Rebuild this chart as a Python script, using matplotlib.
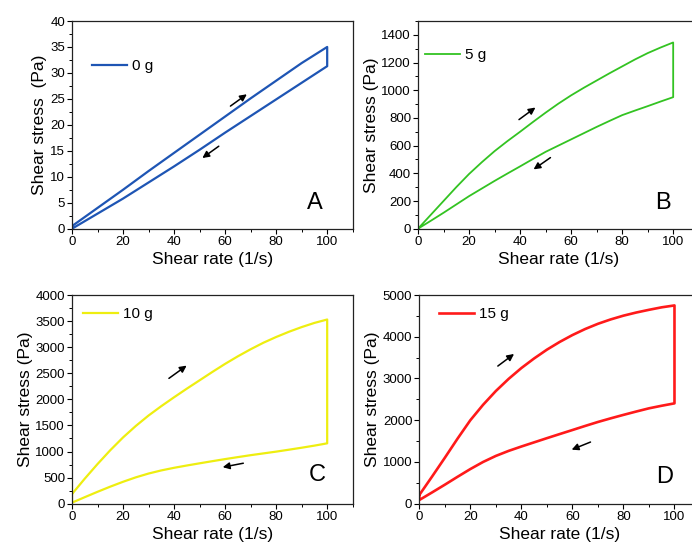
import matplotlib.pyplot as plt
from matplotlib.ticker import MultipleLocator

plt.rcParams['font.family'] = ['Liberation Sans', 'DejaVu Sans']

# --- data (shear rate 1/s, shear stress Pa) ---
rate_a = [0, 10, 20, 30, 40, 50, 60, 70, 80, 90, 100]
rate = [0, 5, 10, 15, 20, 25, 30, 35, 40, 45, 50, 55, 60, 65, 70, 75, 80, 85, 90, 95, 100]

up_0g = [0.5, 4.0, 7.5, 11.1, 14.6, 18.1, 21.6, 25.1, 28.5, 31.9, 35.0]
down_0g = [0.0, 2.9, 5.8, 8.9, 12.0, 15.2, 18.5, 21.7, 24.9, 28.1, 31.3]

up_5g = [0, 100, 200, 300, 395, 480, 560, 632, 700, 770, 838,
         903, 963, 1018, 1070, 1122, 1172, 1222, 1268, 1308, 1345]
down_5g = [0, 57, 115, 175, 235, 290, 345, 398, 450, 503, 555,
           600, 645, 690, 735, 778, 820, 853, 885, 918, 950]

up_10g = [185, 480, 760, 1025, 1270, 1490, 1690, 1870, 2040, 2205, 2365,
          2525, 2680, 2825, 2960, 3085, 3195, 3295, 3385, 3465, 3530]
down_10g = [20, 125, 228, 327, 420, 505, 578, 638, 688, 732, 774,
            815, 855, 893, 930, 964, 998, 1035, 1073, 1113, 1157]

up_15g = [208, 650, 1100, 1560, 2000, 2370, 2700, 2990, 3250, 3480, 3690,
          3875, 4040, 4185, 4310, 4415, 4505, 4580, 4645, 4705, 4750]
down_15g = [88, 270, 455, 645, 830, 1000, 1145, 1265, 1370, 1470, 1570,
            1668, 1765, 1863, 1958, 2045, 2128, 2208, 2285, 2347, 2404]

labels = ['0 g', '5 g', '10 g', '15 g']
letters = ['A', 'B', 'C', 'D']
colors = ['#1e55b4', '#33c322', '#eeee10', '#ff1a1a']
widths = [1.6, 1.3, 1.6, 1.9]
ylims = [40, 1500, 4000, 5000]
ymajor = [5, 200, 500, 1000]
yminor = [2.5, 100, 250, 500]
ylabels = ['Shear stress  (Pa)', 'Shear stress (Pa)', 'Shear stress (Pa)', 'Shear stress (Pa)']

# arrow (start, end) in data coords
arrows = [
    [((61.2, 23.3), (69.4, 26.2)), ((58.4, 16.2), (50.2, 13.3))],
    [((38.7, 776), (46.9, 887)), ((52.8, 525), (44.4, 417))],
    [((37.1, 2371), (45.8, 2678)), ((68.2, 786), (58.0, 690))],
    [((29.9, 3258), (38.0, 3627)), ((68.1, 1502), (58.7, 1270))],
]

rates = [rate_a, rate, rate, rate]
ups = [up_0g, up_5g, up_10g, up_15g]
downs = [down_0g, down_5g, down_10g, down_15g]

W, H = 692, 549
fig = plt.figure(figsize=(W / 100, H / 100), dpi=100)

# axes boxes in pixels: left, top, width, height
boxes = [(72, 21, 280.7, 207.7), (418, 21, 280.7, 207.7),
         (72, 295, 280.7, 208.7), (419.3, 295, 280.7, 208.7)]
leg_pos = [(0.071, 0.783), (0.025, 0.836), (0.039, 0.909), (0.070, 0.909)]
let_pos = [(0.866, 0.122), (0.874, 0.122), (0.872, 0.138), (0.873, 0.129)]

for i in range(4):
    l, t, w, h = boxes[i]
    ax = fig.add_axes([l / W, 1 - (t + h) / H, w / W, h / H])
    x = rates[i] + rates[i][::-1] + [0]
    y = ups[i] + downs[i][::-1] + [ups[i][0]]
    ax.plot(x, y, color=colors[i], lw=widths[i], label=labels[i])

    ax.set_xlim(0, 110)
    ax.set_ylim(0, ylims[i])
    ax.xaxis.set_major_locator(MultipleLocator(20))
    ax.xaxis.set_minor_locator(MultipleLocator(10))
    ax.yaxis.set_major_locator(MultipleLocator(ymajor[i]))
    ax.yaxis.set_minor_locator(MultipleLocator(yminor[i]))
    ax.tick_params(which='major', direction='out', length=3.5, width=0.8, labelsize=9.5, pad=1.5)
    ax.tick_params(which='minor', direction='out', length=2, width=0.7)
    for s in ax.spines.values():
        s.set_linewidth(0.9)
        s.set_color('#222222')

    ax.set_xlabel('Shear rate (1/s)', fontsize=12.5, labelpad=3)
    ax.set_ylabel(ylabels[i], fontsize=12.5, labelpad=2)

    for (x0, y0), (x1, y1) in arrows[i]:
        ax.annotate('', xy=(x1, y1), xytext=(x0, y0),
                    arrowprops=dict(arrowstyle='-|>', color='black', lw=1.1, mutation_scale=10))

    ax.legend(loc='center left', bbox_to_anchor=leg_pos[i], frameon=False,
              borderaxespad=0, borderpad=0, handlelength=2.3, handletextpad=0.3,
              fontsize=11)
    ax.text(let_pos[i][0], let_pos[i][1], letters[i], transform=ax.transAxes,
            fontsize=17, ha='center', va='center')

plt.savefig('out.png', dpi=100)
